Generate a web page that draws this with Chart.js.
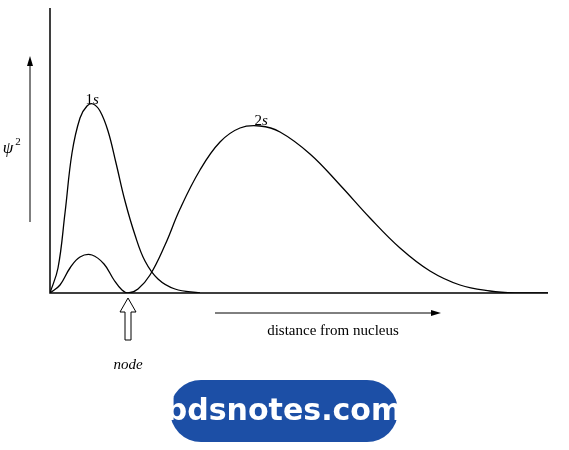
<!DOCTYPE html>
<html><head><meta charset="utf-8">
<script src="https://cdn.jsdelivr.net/npm/chart.js@4/dist/chart.umd.min.js"></script>
<style>body{margin:0;background:#fff}#wrap{position:relative;width:569px;height:450px}</style>
</head><body><div id="wrap"><canvas id="c"></canvas></div>
<script>
// distance units (0..498) and psi^2 units (0..285)
const curve1s = [[0,0],[8,25],[15,80],[22,140],[30,175],[37,187],[43,189],[50,182],[58,162],[66,130],[75,92],[85,58],[95,32],[108,14],[125,4],[150,0]];
const curve2s = [[0,0],[10,8],[20,25],[30,36],[42,38],[54,29],[64,13],[72,3],[78,0],[88,4],[100,18],[115,48],[130,84],[150,123],[170,151],[190,165],[210,167],[230,161],[260,139],[290,108],[320,75],[350,45],[380,22],[410,8],[440,2],[465,0],[498,0]];
const curveLabels = [{text:'1', it:'s', x:43, y:193}, {text:'2', it:'s', x:212, y:172}];

const pts = a => a.map(p => ({x:p[0], y:p[1]}));

const decor = {
  id:'decor',
  afterDraw(chart){
    const c = chart.ctx, a = chart.chartArea, xs = chart.scales.x, ys = chart.scales.y;
    c.save();
    c.strokeStyle = '#000'; c.fillStyle = '#000'; c.lineWidth = 1.5;
    c.beginPath(); c.moveTo(a.left, a.top); c.lineTo(a.left, a.bottom); c.lineTo(a.right, a.bottom); c.stroke();
    c.lineWidth = 1;
    // psi^2 arrow
    c.beginPath(); c.moveTo(30, 222); c.lineTo(30, 62); c.stroke();
    c.beginPath(); c.moveTo(30, 56); c.lineTo(27, 66); c.lineTo(33, 66); c.closePath(); c.fill();
    // distance arrow
    c.beginPath(); c.moveTo(215, 313); c.lineTo(432, 313); c.stroke();
    c.beginPath(); c.moveTo(441, 313); c.lineTo(431, 310); c.lineTo(431, 316); c.closePath(); c.fill();
    // node hollow arrow
    c.beginPath();
    c.moveTo(128, 298); c.lineTo(136, 312); c.lineTo(131, 312); c.lineTo(131, 340);
    c.lineTo(125, 340); c.lineTo(125, 312); c.lineTo(120, 312); c.closePath(); c.stroke();
    c.textAlign = 'center'; c.textBaseline = 'middle';
    c.font = 'italic 17px "Liberation Serif"'; c.fillText('ψ', 8, 149);
    c.font = '11px "Liberation Serif"'; c.fillText('2', 18, 142);
    c.font = 'italic 15px "Liberation Serif"'; c.fillText('node', 128, 365);
    c.font = '15px "Liberation Serif"'; c.fillText('distance from nucleus', 333, 331);
    curveLabels.forEach(l => {
      const px = xs.getPixelForValue(l.x), py = ys.getPixelForValue(l.y);
      c.font = '15px "Liberation Serif"'; c.textAlign = 'right'; c.fillText(l.text, px, py);
      c.font = 'italic 15px "Liberation Serif"'; c.textAlign = 'left'; c.fillText(l.it, px, py);
    });
    // badge
    c.fillStyle = '#1c4fa6';
    c.beginPath(); c.roundRect(170, 380, 228, 62, 31); c.fill();
    c.fillStyle = '#fff'; c.textAlign = 'center';
    c.font = 'bold 30px "DejaVu Sans"'; c.fillText('bdsnotes.com', 284, 412);
    c.restore();
  }
};

new Chart(document.getElementById('c'), {
  type:'line',
  data:{datasets:[
    {data:pts(curve1s), borderColor:'#000', borderWidth:1.3, pointRadius:0, tension:0.4, fill:false},
    {data:pts(curve2s), borderColor:'#000', borderWidth:1.3, pointRadius:0, tension:0.4, fill:false}
  ]},
  options:{
    responsive:true, maintainAspectRatio:false, animation:false,
    layout:{padding:{left:50, right:21, top:8, bottom:157}},
    plugins:{legend:{display:false}, tooltip:{enabled:false}},
    scales:{
      x:{type:'linear', min:0, max:498, display:false},
      y:{min:0, max:285, display:false}
    }
  },
  plugins:[decor]
});
</script></body></html>
